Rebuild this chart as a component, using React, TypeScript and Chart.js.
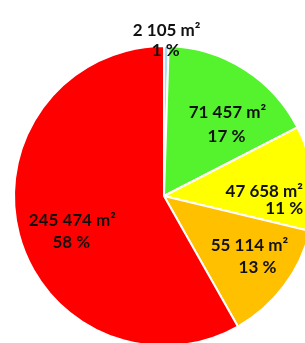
import React, { useEffect, useRef } from "react";
import { Chart, registerables } from "chart.js";

Chart.register(...registerables);

const categories = ["A", "B", "C", "D", "E"];
const areas = [2105, 71457, 47658, 55114, 245474];
const areaLabels = ["2 105 m²", "71 457 m²", "47 658 m²", "55 114 m²", "245 474 m²"];
const percentLabels = ["1 %", "17 %", "11 %", "13 %", "58 %"];
const colors = ["#A6DDF0", "#55F22E", "#FFFF00", "#FFC000", "#FF0000"];

// label line offsets relative to the arc's anchor point (mid-angle, 0.68 r)
const line1Offsets = [[1, -64], [9, 2], [-1, 7], [4, -12], [7, -2]];
const line2Offsets = [[0, -44], [8, 26], [19, 24], [12, 10], [6, 20]];

const FONT = "bold 17px Lato, 'DejaVu Sans', sans-serif";

const labelPlugin = {
  id: "sliceLabels",
  afterDatasetsDraw(chart: any) {
    const ctx = chart.ctx;
    const meta = chart.getDatasetMeta(0);
    ctx.save();
    ctx.font = FONT;
    ctx.fillStyle = "#111";
    ctx.textAlign = "center";
    ctx.textBaseline = "alphabetic";
    meta.data.forEach((arc: any, i: number) => {
      const p = arc.getProps(["x", "y", "startAngle", "endAngle", "outerRadius"], true);
      const mid = (p.startAngle + p.endAngle) / 2;
      const r = p.outerRadius * 0.68;
      const bx = p.x + Math.cos(mid) * r;
      const by = p.y + Math.sin(mid) * r;
      const capHalf = 6;
      ctx.fillText(areaLabels[i], bx + line1Offsets[i][0], by + line1Offsets[i][1] + capHalf);
      ctx.fillText(percentLabels[i], bx + line2Offsets[i][0], by + line2Offsets[i][1] + capHalf);
    });
    ctx.restore();
  },
};

export default function App() {
  const ref = useRef<HTMLCanvasElement>(null);
  useEffect(() => {
    if (!ref.current) return;
    const chart = new Chart(ref.current, {
      type: "pie",
      data: {
        labels: categories,
        datasets: [
          {
            data: areas,
            backgroundColor: colors,
            borderColor: "#ffffff",
            borderWidth: 2,
          },
        ],
      },
      options: {
        responsive: false,
        animation: false,
        layout: { padding: { left: 13, top: 45, right: 15, bottom: 13 } },
        plugins: {
          legend: { display: false },
          tooltip: { enabled: false },
        },
      },
      plugins: [labelPlugin],
    });
    return () => chart.destroy();
  }, []);
  return (
    <div
      style={{
        position: "fixed",
        left: 0,
        top: 0,
        width: 305,
        height: 343,
        overflow: "hidden",
        background: "#fff",
      }}
    >
      <canvas ref={ref} width={330} height={360} style={{ display: "block", width: 330, height: 360 }} />
    </div>
  );
}
